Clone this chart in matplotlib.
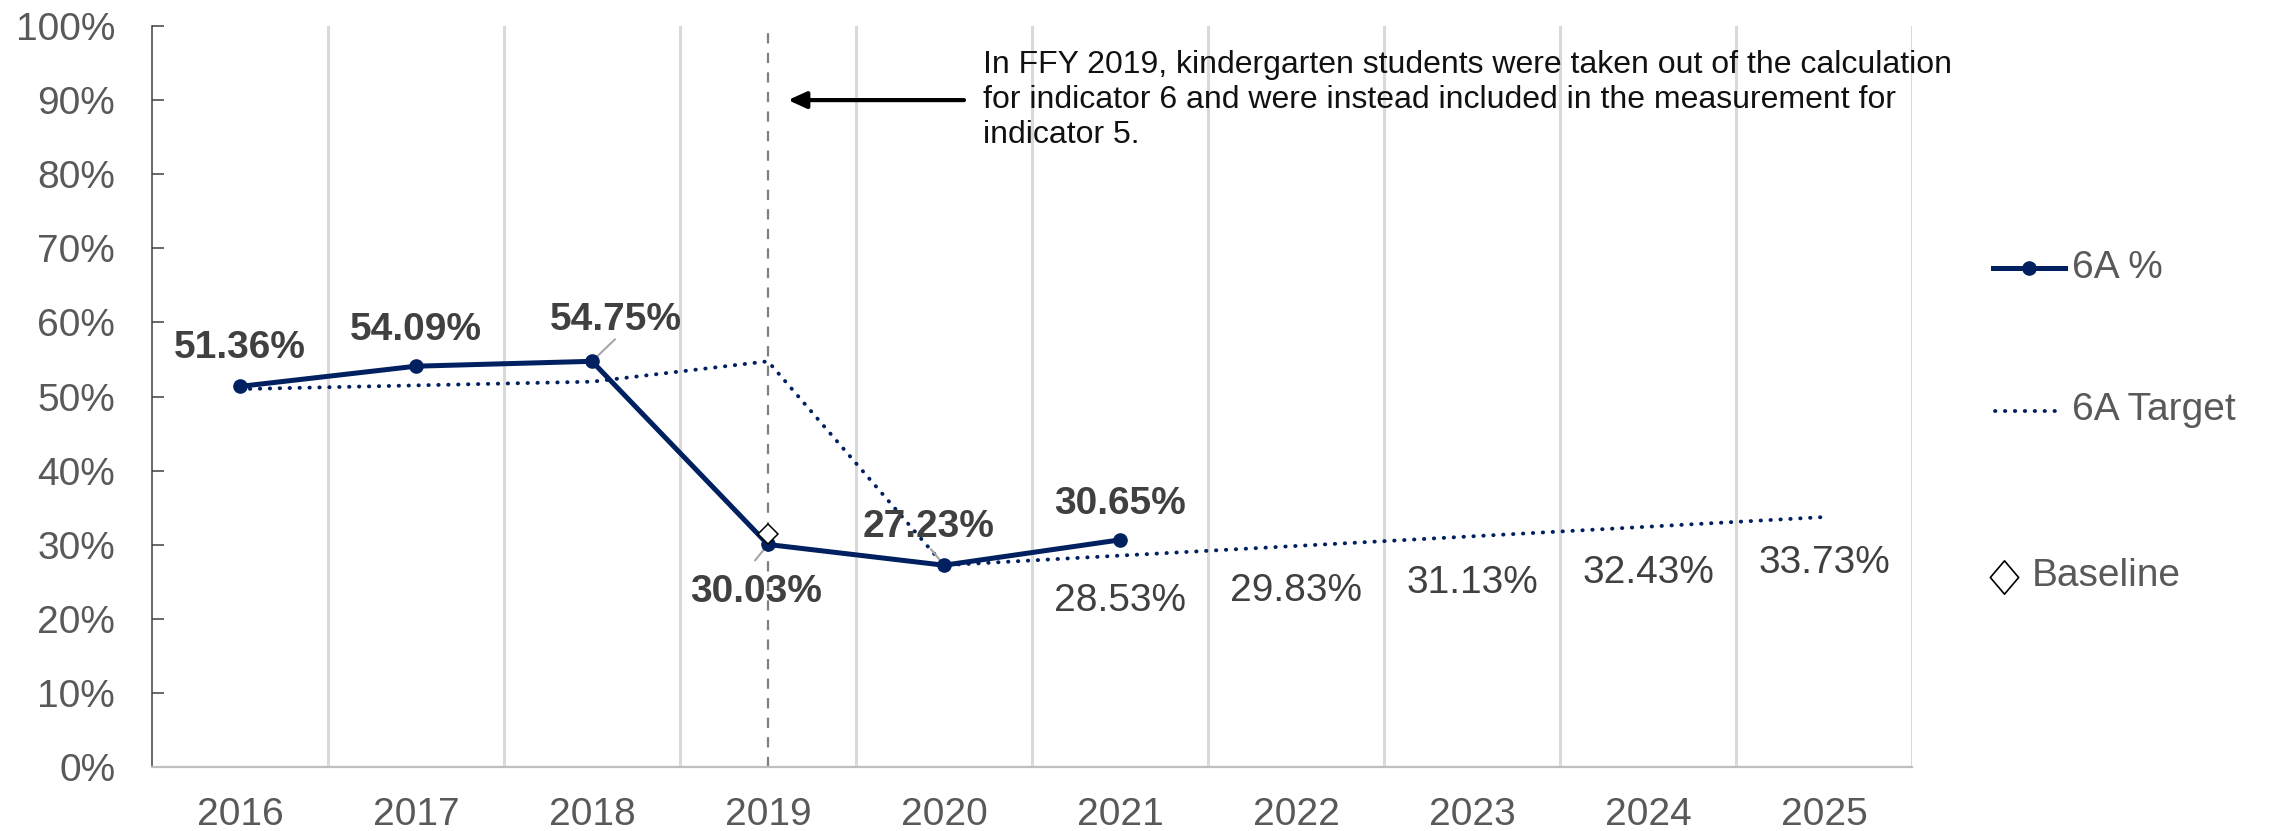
import matplotlib
matplotlib.use("Agg")
import matplotlib.pyplot as plt
from matplotlib.lines import Line2D
from matplotlib.path import Path
import numpy as np

# ---------------- data ----------------
years = ["2016", "2017", "2018", "2019", "2020", "2021", "2022", "2023", "2024", "2025"]
actual_pct = [51.36, 54.09, 54.75, 30.03, 27.23, 30.65]
target_pct = [51.0, 51.5, 52.0, 54.75, 27.23, 28.53, 29.83, 31.13, 32.43, 33.73]
baseline_year = "2019"
baseline_pct = 31.4
actual_labels = ["51.36%", "54.09%", "54.75%", "30.03%", "27.23%", "30.65%"]
target_label_years = ["2021", "2022", "2023", "2024", "2025"]
target_labels = ["28.53%", "29.83%", "31.13%", "32.43%", "33.73%"]
y_ticks = [0, 10, 20, 30, 40, 50, 60, 70, 80, 90, 100]
y_tick_labels = ["0%", "10%", "20%", "30%", "40%", "50%", "60%", "70%", "80%", "90%", "100%"]
note_text = ("In FFY 2019, kindergarten students were taken out of the calculation\n"
             "for indicator 6 and were instead included in the measurement for\n"
             "indicator 5.")
series_names = ["6A %", "6A Target", "Baseline"]

# ---------------- style ----------------
plt.rcParams["font.family"] = ["Liberation Sans", "DejaVu Sans"]
NAVY = "#002060"
LABEL = "#404040"
TICK = "#595959"
W, H = 2277, 831
PX = 72 / 100.0  # points per pixel at dpi 100

fig = plt.figure(figsize=(W / 100, H / 100), dpi=100)
ax = fig.add_axes([152 / W, 1 - 767 / H, (1912 - 152) / W, (767 - 26) / H])

x = np.arange(len(years))
xa = x[:len(actual_pct)]

ax.set_xlim(-0.5, len(years) - 0.5)
ax.set_ylim(0, 100)
ax.set_yticks(y_ticks)
ax.set_yticklabels(y_tick_labels)
ax.set_xticks(x)
ax.set_xticklabels(years)
ax.set_xticks(np.arange(0.5, len(years), 1), minor=True)
ax.grid(which="minor", axis="x", color="#d9d9d9", lw=2.2)
ax.tick_params(axis="y", direction="in", length=8.4, width=1.1, color="#404040",
               labelsize=28, labelcolor=TICK, pad=26.5)
ax.tick_params(axis="x", which="major", length=0, labelsize=28, labelcolor=TICK, pad=21.5)
ax.tick_params(axis="x", which="minor", length=0)
for s in ["top", "right"]:
    ax.spines[s].set_visible(False)
ax.spines["left"].set_color("#404040")
ax.spines["left"].set_linewidth(1.1)
ax.spines["bottom"].set_color("#bfbfbf")
ax.spines["bottom"].set_linewidth(1.6)

# dashed reference line at 2019
bi = years.index(baseline_year)
ax.axvline(bi, ymin=0, ymax=0.9946, color="#7f7f7f", lw=1.6, ls=(0, (4.6, 4.2)), zorder=2)

# series
TGT_LS = (0, (0.1, 2.45))
ax.plot(x, target_pct, color=NAVY, lw=2.8, ls=TGT_LS, dash_capstyle="round", zorder=3)
ax.plot(xa, actual_pct, color=NAVY, lw=3.6, marker="o", ms=9.5, zorder=4)
ax.plot([bi], [baseline_pct], marker="D", ms=10.5, mfc="white", mec="black", mew=1.1,
        ls="none", zorder=5)

# data labels for actual values (offsets in pixels)
act_dx = [0, 0, 24, -12, -15, 0]
act_dy = [38, 36, 41, -48, 38, 36]
for xi, v, lab, dx, dy in zip(xa, actual_pct, actual_labels, act_dx, act_dy):
    ax.annotate(lab, (xi, v), xytext=(dx * PX, dy * PX), textcoords="offset points",
                ha="center", va="center", fontsize=28, fontweight="bold", color=LABEL, zorder=6)

# leader lines
leaders = {2: (23, 22), 3: (-13, -16), 4: (-13, 16)}
for i, (dx, dy) in leaders.items():
    ax.annotate("", (xa[i], actual_pct[i]), xytext=(dx * PX, dy * PX), textcoords="offset points",
                arrowprops=dict(arrowstyle="-", color="#a6a6a6", lw=1.5, shrinkA=0, shrinkB=0),
                zorder=3.5)

# target labels
tgt_dy = [-45, -45, -47, -46, -46]
for yr, lab, dy in zip(target_label_years, target_labels, tgt_dy):
    i = years.index(yr)
    ax.annotate(lab, (i, target_pct[i]), xytext=(0, dy * PX), textcoords="offset points",
                ha="center", va="center", fontsize=28, color=LABEL, zorder=6)

# note with arrow
ax.annotate("", xy=(bi + 20 / 176, 90), xytext=(bi + 196 / 176, 90),
            arrowprops=dict(arrowstyle="-|>,head_length=0.55,head_width=0.25", color="black",
                            lw=3.0, shrinkA=0, shrinkB=0, mutation_scale=20), zorder=6)
ax.text(bi + 215 / 176, 90, note_text, ha="left", va="center", fontsize=23,
        color="#111111", linespacing=1.2, zorder=6)

# legend (manual, at right)
def fx(px):
    return px / W

def fy(py):
    return 1 - py / H

fig.add_artist(Line2D([fx(1993), fx(2065)], [fy(268)] * 2, transform=fig.transFigure,
                      color=NAVY, lw=3.6))
fig.add_artist(Line2D([fx(2029)], [fy(268)], transform=fig.transFigure, color=NAVY,
                      marker="o", ms=9.5, ls="none"))
fig.text(fx(2072), fy(268), series_names[0], ha="left", va="center", fontsize=28, color=TICK)

fig.add_artist(Line2D([fx(1995), fx(2062)], [fy(411)] * 2, transform=fig.transFigure,
                      color=NAVY, lw=2.8, ls=TGT_LS, dash_capstyle="round"))
fig.text(fx(2072), fy(410), series_names[1], ha="left", va="center", fontsize=28, color=TICK)

diamond = Path([(0, 1), (0.85, 0), (0, -1), (-0.85, 0), (0, 1)],
               [Path.MOVETO, Path.LINETO, Path.LINETO, Path.LINETO, Path.CLOSEPOLY])
fig.add_artist(Line2D([fx(2004)], [fy(577)], transform=fig.transFigure, marker=diamond,
                      ms=24, mfc="white", mec="black", mew=1.2, ls="none"))
fig.text(fx(2032), fy(576), series_names[2], ha="left", va="center", fontsize=28, color=TICK)

fig.savefig("out.png", dpi=100, facecolor="white")
